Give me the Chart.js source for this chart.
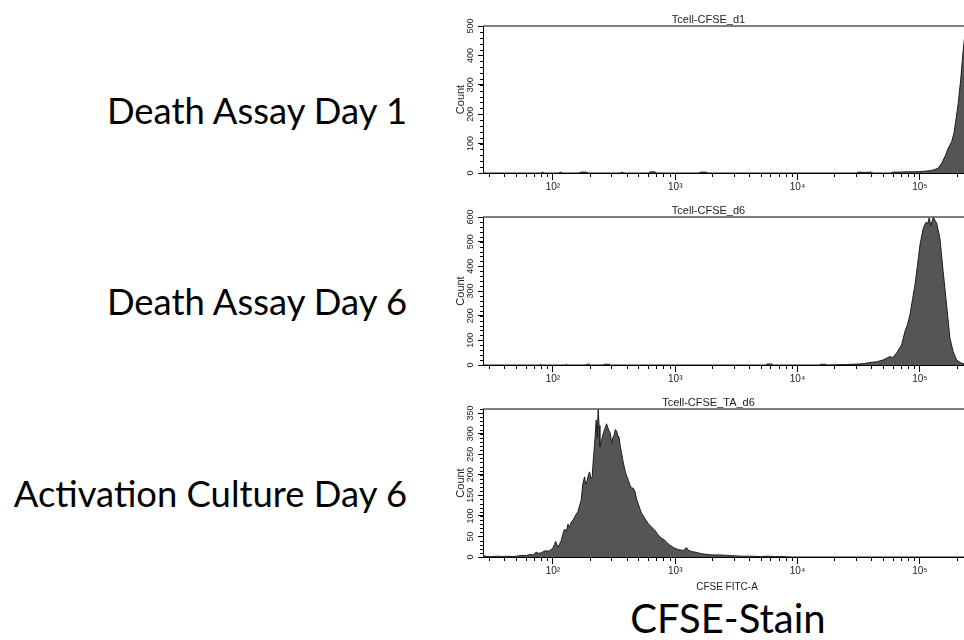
<!DOCTYPE html>
<html>
<head>
<meta charset="utf-8">
<script src="https://cdn.jsdelivr.net/npm/chart.js@4.4.0/dist/chart.umd.min.js"></script>
<style>
  html, body { margin: 0; padding: 0; background: #fff; }
  body { width: 964px; height: 640px; overflow: hidden; position: relative; }
  .lbl { position: absolute; font-family: Lato, sans-serif; font-size: 36.4px; color: #000; white-space: nowrap; line-height: 1; }
  canvas { position: absolute; }
</style>
</head>
<body>
<div class="lbl" style="right:557px; top:92px;">Death Assay Day 1</div>
<div class="lbl" style="right:557px; top:283px;">Death Assay Day 6</div>
<div class="lbl" style="right:557px; top:475px;">Activation Culture Day 6</div>
<div class="lbl" style="left:728px; top:598px; font-size:40px; transform:translateX(-50%);">CFSE-Stain</div>

<canvas id="p1" width="528" height="185" style="left:446px; top:10px;"></canvas>
<canvas id="p2" width="528" height="186" style="left:446px; top:201px;"></canvas>
<canvas id="p3" width="528" height="206" style="left:446px; top:393px;"></canvas>

<script>
// eixo x (log) - valores de canal CFSE
var xMin = 26.8;
var xMax = 262144;
var xMajor = [100, 1000, 10000, 100000];
var xMajorLabels = ['10²', '10³', '10⁴', '10⁵'];
var xMinor = [];
for (var k = 1; k <= 5; k++) {
    for (var m = 2; m <= 9; m++) {
        var v = m * Math.pow(10, k);
        if (v > xMin && v < xMax) xMinor.push(v);
    }
}

// Tcell-CFSE_d1 : log10(canal) e contagens
var d1Log = [1.43, 1.90, 1.91, 1.93, 2.05, 2.06, 2.08, 2.21, 2.23, 2.27, 2.29, 2.55, 2.56, 2.58, 2.78, 2.80, 2.83, 2.85, 3.19, 3.21, 3.25, 3.27, 4.48, 4.50, 4.55, 4.60, 4.62, 4.76, 4.78, 4.84, 4.90, 4.96, 5.00, 5.04, 5.08, 5.109, 5.150, 5.178, 5.205, 5.232, 5.260, 5.279, 5.295, 5.314, 5.334, 5.350, 5.363, 5.385, 5.40, 5.418];
var d1Count = [0, 0, 3, 0, 0, 3, 0, 0, 3, 3, 0, 0, 3, 0, 0, 4, 4, 0, 0, 3, 3, 0, 0, 3, 2, 3, 0, 0, 3, 3, 4, 4, 5, 6, 8, 10, 16, 33, 55, 84, 106, 135, 180, 237, 316, 396, 452, 495, 485, 470];
var d1Ticks = [0, 100, 200, 300, 400, 500];

// Tcell-CFSE_d6
var d6Log = [1.43, 1.89, 1.90, 1.91, 2.10, 2.11, 2.12, 2.27, 2.28, 2.30, 2.31, 2.41, 2.42, 2.46, 2.47, 3.74, 3.75, 3.79, 3.80, 4.18, 4.19, 4.23, 4.24, 4.40, 4.45, 4.50, 4.55, 4.592, 4.647, 4.698, 4.756, 4.78, 4.810, 4.851, 4.878, 4.90, 4.919, 4.94, 4.960, 4.98, 5.001, 5.028, 5.042, 5.055, 5.065, 5.077, 5.091, 5.110, 5.125, 5.137, 5.150, 5.164, 5.191, 5.219, 5.246, 5.273, 5.301, 5.342, 5.38, 5.418];
var d6Count = [0, 0, 3, 0, 0, 3, 0, 0, 3, 3, 0, 0, 3, 3, 0, 0, 4, 4, 0, 0, 3, 3, 0, 2, 3, 4, 6, 10, 13, 20, 34, 30, 49, 81, 135, 165, 203, 265, 324, 400, 486, 554, 570, 580, 572, 597, 564, 600, 585, 577, 547, 515, 378, 243, 109, 54, 20, 7, 3, 2];
var d6Ticks = [0, 100, 200, 300, 400, 500, 600];

// Tcell-CFSE_TA_d6
var ta6Log = [1.428, 1.44, 1.46, 1.50, 1.55, 1.58, 1.62, 1.67, 1.70, 1.755,
    1.78, 1.809, 1.84, 1.863, 1.88, 1.904, 1.925, 1.945, 1.96, 1.973,
    1.99, 2.000, 2.012, 2.022, 2.032, 2.041, 2.055, 2.068, 2.08, 2.096,
    2.11, 2.123, 2.136, 2.150, 2.165, 2.177, 2.19, 2.204, 2.218, 2.231,
    2.245, 2.259, 2.268, 2.278, 2.29, 2.300, 2.31, 2.321, 2.331, 2.341,
    2.354, 2.362, 2.370, 2.377, 2.384, 2.398, 2.411, 2.425, 2.439, 2.448,
    2.458, 2.47, 2.480, 2.49, 2.499, 2.51, 2.521, 2.53, 2.540, 2.55,
    2.562, 2.575, 2.589, 2.60, 2.616, 2.63, 2.643, 2.655, 2.670, 2.685,
    2.697, 2.71, 2.725, 2.74, 2.752, 2.765, 2.779, 2.79, 2.807, 2.82,
    2.834, 2.85, 2.861, 2.875, 2.889, 2.90, 2.916, 2.93, 2.943, 2.955,
    2.971, 2.99, 3.01, 3.025, 3.045, 3.065, 3.08, 3.093, 3.105, 3.120,
    3.14, 3.161, 3.19, 3.216, 3.24, 3.270, 3.30, 3.325, 3.365, 3.42,
    3.472, 3.54, 3.611, 3.70, 3.75, 3.82, 3.881, 3.95, 5.418];
var ta6Count = [6, 3, 1, 1, 2, 1, 2, 1, 2, 4,
    3, 6, 5, 12, 9, 10, 14, 15, 14, 16,
    19, 22, 30, 38, 30, 24, 32, 40, 55, 68,
    62, 80, 72, 85, 90, 97, 104, 110, 125, 138,
    179, 195, 178, 183, 200, 207, 190, 195, 240, 276,
    333, 290, 362, 320, 268, 285, 300, 312, 324, 315,
    308, 300, 276, 290, 295, 310, 306, 296, 292, 270,
    252, 230, 211, 200, 187, 175, 167, 168, 160, 140,
    130, 118, 106, 100, 93, 88, 81, 78, 73, 68,
    65, 58, 53, 50, 45, 44, 40, 36, 32, 29,
    26, 22, 20, 18, 17, 16, 20, 23, 17, 15,
    13, 12, 10, 8, 7, 6, 5, 5, 5, 4,
    3, 2, 2, 1, 2, 1, 1, 0, 0];
var ta6Ticks = [0, 50, 100, 150, 200, 250, 300, 350];

Chart.defaults.font.family = 'Liberation Sans, Arial, sans-serif';
Chart.defaults.color = '#222';

// ticks menores + linha superior do quadro
var frameTicks = {
    id: 'frameTicks',
    afterDraw: function (chart, args, opts) {
        var ctx = chart.ctx, a = chart.chartArea;
        var x = chart.scales.x, y = chart.scales.y;
        ctx.save();
        ctx.strokeStyle = '#000';
        ctx.lineWidth = 1;
        ctx.beginPath();
        xMinor.forEach(function (v) {
            var px = Math.round(x.getPixelForValue(v)) + 0.5;
            ctx.moveTo(px, a.bottom);
            ctx.lineTo(px, a.bottom + 4);
        });
        for (var v = 0; v <= y.max; v += opts.yMinor) {
            var py = Math.round(y.getPixelForValue(v)) + 0.5;
            ctx.moveTo(a.left, py);
            ctx.lineTo(a.left - 3, py);
        }
        ctx.stroke();
        ctx.strokeStyle = '#555';
        ctx.lineWidth = 1.5;
        ctx.beginPath();
        ctx.moveTo(a.left, a.top);
        ctx.lineTo(a.right + 5, a.top);
        ctx.stroke();
        ctx.restore();
    }
};

function histograma(id, titulo, logs, counts, yMax, yTicks, yMinor, xH, xTitle) {
    var pontos = logs.map(function (l, i) { return { x: Math.pow(10, l), y: counts[i] }; });
    return new Chart(document.getElementById(id), {
        type: 'line',
        data: {
            datasets: [{
                data: pontos,
                fill: 'origin',
                backgroundColor: '#555555',
                borderColor: '#1e1e1e',
                borderWidth: 1,
                pointRadius: 0,
                tension: 0
            }]
        },
        options: {
            responsive: false,
            animation: false,
            devicePixelRatio: 1,
            layout: { padding: { right: 3 } },
            plugins: {
                legend: { display: false },
                tooltip: { enabled: false },
                title: {
                    display: true,
                    text: titulo,
                    color: '#222',
                    font: { size: 11, weight: 'normal', lineHeight: 1 },
                    padding: { top: 4, bottom: 1 }
                },
                frameTicks: { yMinor: yMinor }
            },
            scales: {
                x: {
                    type: 'logarithmic',
                    min: xMin,
                    max: xMax,
                    afterBuildTicks: function (s) { s.ticks = xMajor.map(function (v) { return { value: v }; }); },
                    afterFit: function (s) { s.height = xH; },
                    ticks: {
                        autoSkip: false,
                        maxRotation: 0,
                        padding: 1,
                        font: { size: 10 },
                        callback: function (v) { return xMajorLabels[xMajor.indexOf(v)]; }
                    },
                    grid: { drawOnChartArea: false, color: '#000', tickLength: 7 },
                    border: { color: '#000', width: 1 },
                    title: {
                        display: !!xTitle,
                        text: xTitle,
                        font: { size: 10 },
                        padding: { top: 0, bottom: 6 }
                    }
                },
                y: {
                    min: 0,
                    max: yMax,
                    afterBuildTicks: function (s) { s.ticks = yTicks.map(function (v) { return { value: v }; }); },
                    afterFit: function (s) { s.width = 37; },
                    ticks: {
                        minRotation: 90,
                        maxRotation: 90,
                        crossAlign: 'center',
                        padding: 0,
                        font: { size: 9 }
                    },
                    grid: { drawOnChartArea: false, color: '#000', tickLength: 5 },
                    border: { color: '#000', width: 1 },
                    title: {
                        display: true,
                        text: 'Count',
                        font: { size: 11 },
                        padding: { top: 8, bottom: 0 }
                    }
                }
            }
        },
        plugins: [frameTicks]
    });
}

histograma('p1', 'Tcell-CFSE_d1', d1Log, d1Count, 500, d1Ticks, 20, 22, '');
histograma('p2', 'Tcell-CFSE_d6', d6Log, d6Count, 600, d6Ticks, 20, 22, '');
histograma('p3', 'Tcell-CFSE_TA_d6', ta6Log, ta6Count, 360, ta6Ticks, 10, 42, 'CFSE FITC-A');
</script>
</body>
</html>
